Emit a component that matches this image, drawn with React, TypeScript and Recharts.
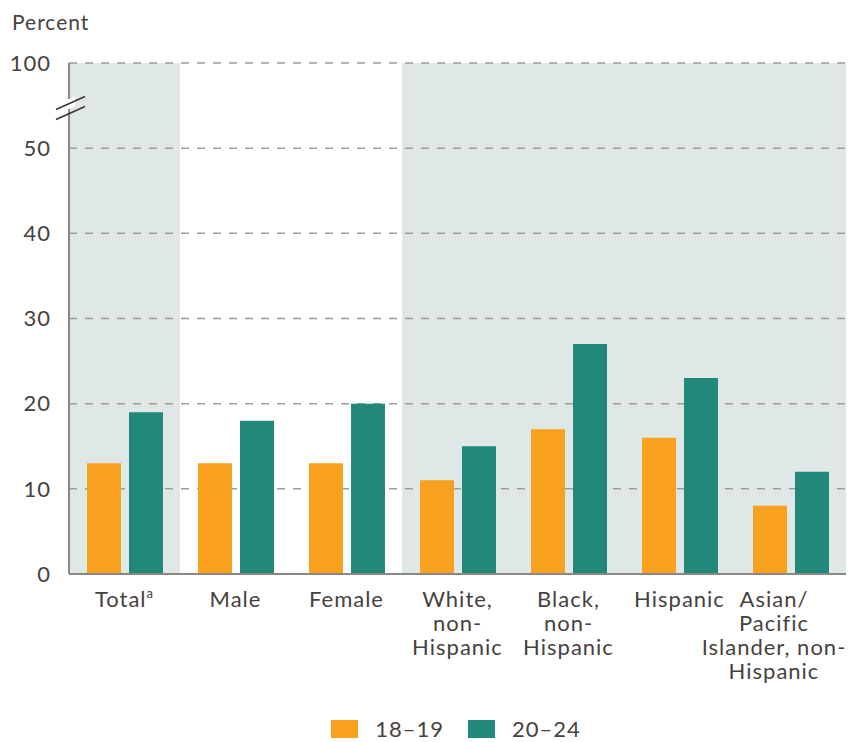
import React from "react";
import {
  BarChart,
  Bar,
  XAxis,
  YAxis,
  CartesianGrid,
  ReferenceArea,
  ReferenceLine,
  Legend,
} from "recharts";

const categories = [
  "Total",
  "Male",
  "Female",
  "White, non-Hispanic",
  "Black, non-Hispanic",
  "Hispanic",
  "Asian/Pacific Islander, non-Hispanic",
];
const categoryLines: string[][] = [
  ["Total"],
  ["Male"],
  ["Female"],
  ["White,", "non-", "Hispanic"],
  ["Black,", "non-", "Hispanic"],
  ["Hispanic"],
  ["Asian/", "Pacific", "Islander, non-", "Hispanic"],
];
const age18to19 = [13, 13, 13, 11, 17, 16, 8];
const age20to24 = [19, 18, 20, 15, 27, 23, 12];
const seriesNames = ["18–19", "20–24"];
const yTicks = [0, 10, 20, 30, 40, 50, 60];
const yTickLabels = ["0", "10", "20", "30", "40", "50", "100"];
const breakValue = 55;
const shadedRanges: [string, string][] = [
  ["Total", "Total"],
  ["White, non-Hispanic", "Asian/Pacific Islander, non-Hispanic"],
];

const ORANGE = "#F7A11F";
const TEAL = "#22897A";
const SHADE = "#DFE8E6";
const TEXT = "#464240";
const AXIS = "#8A8785";
const GRID = "#9C9C9C";
const FONT = "Lato, 'DejaVu Sans', sans-serif";
const SPACING = 1;

const data = categories.map((c, i) => ({
  category: c,
  a: age18to19[i],
  b: age20to24[i],
}));

const XTick = (props: any) => {
  const { x, y, payload } = props;
  const idx = categories.indexOf(payload.value);
  const lines = categoryLines[idx] || [payload.value];
  const cx = Math.min(x, 848 - 74);
  return (
    <text
      x={cx}
      y={y}
      textAnchor="middle"
      fill={TEXT}
      fontSize={22}
      fontFamily={FONT}
      letterSpacing={SPACING}
    >
      {lines.map((l, i) => (
        <tspan key={i} x={cx} dy={i === 0 ? 25 : 24}>
          {l}
          {idx === 0 && i === 0 ? (
            <tspan fontSize={13} dy={-9}>
              a
            </tspan>
          ) : null}
        </tspan>
      ))}
    </text>
  );
};

const BreakMark = (props: any) => {
  const { x1, y1 } = props;
  if (x1 == null || y1 == null) return null;
  const x = x1;
  const y = y1 + 3;
  return (
    <g>
      <polygon
        points={`${x - 6},${y + 3} ${x + 6},${y - 2} ${x + 6},${y - 12} ${x - 6},${y - 7}`}
        fill="#fff"
      />
      <line x1={x - 13} y1={y + 1} x2={x + 16} y2={y - 12} stroke="#3A3634" strokeWidth={1.6} />
      <line x1={x - 13} y1={y + 11} x2={x + 16} y2={y - 2} stroke="#3A3634" strokeWidth={1.6} />
    </g>
  );
};

const LegendContent = () => (
  <div
    style={{
      display: "flex",
      justifyContent: "center",
      alignItems: "center",
      height: 30,
      paddingTop: 4,
      fontFamily: FONT,
      fontSize: 22,
      lineHeight: "20px",
      letterSpacing: SPACING,
      color: TEXT,
      paddingLeft: 66,
      boxSizing: "border-box",
    }}
  >
    {seriesNames.map((n, i) => (
      <div key={n} style={{ display: "flex", alignItems: "center", marginLeft: i ? 24 : 0 }}>
        <div
          style={{
            width: 27,
            height: 18,
            background: i === 0 ? ORANGE : TEAL,
            marginRight: 17,
          }}
        />
        <span style={{ lineHeight: "20px" }}>{n}</span>
      </div>
    ))}
  </div>
);

export default function App() {
  return (
    <div style={{ position: "relative", width: 848, height: 742 }}>
      <style>{`body{margin:0;}`}</style>
      <div
        style={{
          position: "absolute",
          left: 12,
          top: 9,
          fontFamily: FONT,
          fontSize: 21,
          letterSpacing: SPACING,
          color: TEXT,
        }}
      >
        Percent
      </div>
      <BarChart
        width={848}
        height={742}
        data={data}
        margin={{ top: 63, right: 2, left: 0, bottom: 0 }}
        barSize={34}
        barGap={8}
      >
        {shadedRanges.map(([s, e]) => (
          <ReferenceArea
            key={s}
            x1={s}
            x2={e}
            y1={0}
            y2={60}
            fill={SHADE}
            fillOpacity={1}
            stroke="none"
            ifOverflow="visible"
            zIndex={100}
          />
        ))}
        <CartesianGrid
          vertical={false}
          stroke={GRID}
          strokeWidth={1.5}
          strokeDasharray="8 8"
          horizontalValues={[10, 20, 30, 40, 50, 60]}
          zIndex={200}
        />
        <XAxis
          dataKey="category"
          tickLine={false}
          axisLine={{ stroke: AXIS, strokeWidth: 2 }}
          height={138}
          interval={0}
          tick={<XTick />}
        />
        <YAxis
          width={69}
          domain={[0, 60]}
          ticks={yTicks}
          tickFormatter={(v: number) => yTickLabels[yTicks.indexOf(v)]}
          tickLine={false}
          axisLine={{ stroke: AXIS, strokeWidth: 2 }}
          tickMargin={12}
          tick={{ fill: TEXT, fontSize: 22, fontFamily: FONT, letterSpacing: SPACING }}
          interval={0}
        />
        <Bar dataKey="a" name={seriesNames[0]} fill={ORANGE} isAnimationActive={false} />
        <Bar dataKey="b" name={seriesNames[1]} fill={TEAL} isAnimationActive={false} />
        <ReferenceLine
          y={breakValue}
          stroke="none"
          shape={(p: any) => <BreakMark {...p} />}
          zIndex={600}
        />
        <Legend verticalAlign="bottom" height={30} content={<LegendContent />} />
      </BarChart>
    </div>
  );
}
